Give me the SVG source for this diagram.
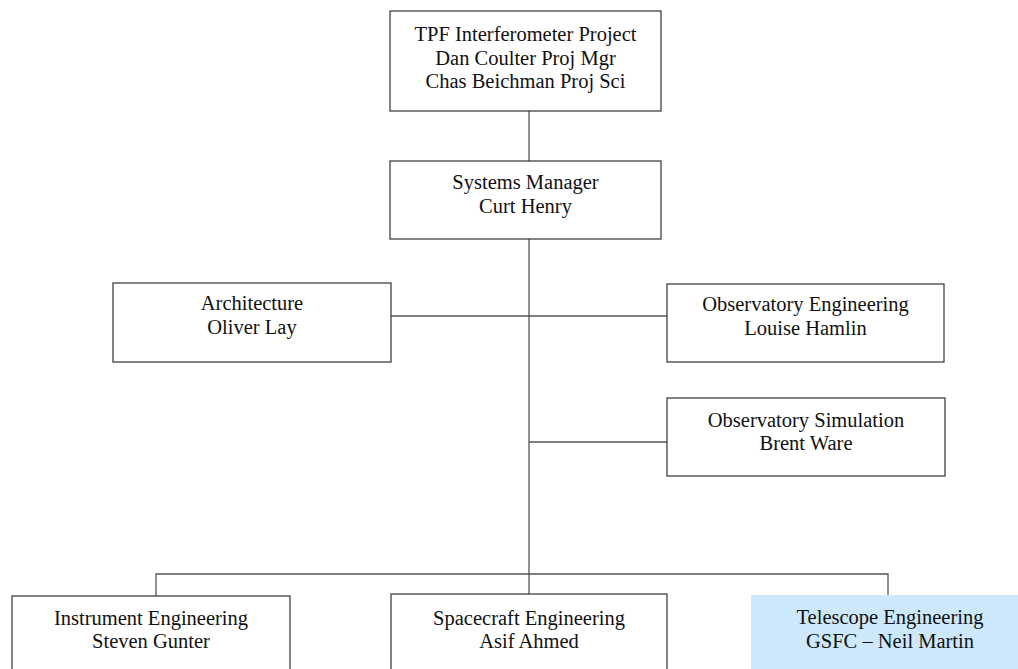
<svg xmlns="http://www.w3.org/2000/svg" width="1018" height="669" viewBox="0 0 1018 669">
<style>
.box{fill:#ffffff;stroke:#333333;stroke-width:1.2}
.hl{fill:#cce8fa;stroke:none}
.ln{fill:none;stroke:#555555;stroke-width:1.3}
text{font-family:"Liberation Serif","Times New Roman",serif;font-size:20.5px;fill:#111111;text-anchor:middle}
</style>
<rect width="1018" height="669" fill="#ffffff"/>
<g id="connectors">
<path class="ln" d="M529,111V574"/>
<path class="ln" d="M391,316H667"/>
<path class="ln" d="M529,442H667"/>
<path class="ln" d="M156,596V574H888V595"/>
<path class="ln" d="M529,574V594"/>
</g>
<g id="n-project">
<rect class="box" x="390" y="11" width="271" height="100"/>
<text x="525.5" y="41">TPF Interferometer Project</text>
<text x="525.5" y="64.5">Dan Coulter Proj Mgr</text>
<text x="525.5" y="88">Chas Beichman Proj Sci</text>
</g>
<g id="n-systems">
<rect class="box" x="390" y="161" width="271" height="78"/>
<text x="525.5" y="189">Systems Manager</text>
<text x="525.5" y="213">Curt Henry</text>
</g>
<g id="n-architecture">
<rect class="box" x="113" y="283" width="278" height="79"/>
<text x="252" y="310">Architecture</text>
<text x="252" y="334">Oliver Lay</text>
</g>
<g id="n-obs-eng">
<rect class="box" x="667" y="284" width="277" height="78"/>
<text x="805.5" y="311">Observatory Engineering</text>
<text x="805.5" y="335">Louise Hamlin</text>
</g>
<g id="n-obs-sim">
<rect class="box" x="667" y="398" width="278" height="78"/>
<text x="806" y="427">Observatory Simulation</text>
<text x="806" y="450">Brent Ware</text>
</g>
<g id="n-instrument">
<rect class="box" x="12" y="596" width="278" height="80"/>
<text x="151" y="625">Instrument Engineering</text>
<text x="151" y="648">Steven Gunter</text>
</g>
<g id="n-spacecraft">
<rect class="box" x="391" y="594" width="276" height="80"/>
<text x="529" y="625">Spacecraft Engineering</text>
<text x="529" y="648">Asif Ahmed</text>
</g>
<g id="n-telescope">
<rect class="hl" x="751" y="595" width="280" height="80"/>
<text x="890" y="624">Telescope Engineering</text>
<text x="890" y="648">GSFC – Neil Martin</text>
</g>
</svg>
